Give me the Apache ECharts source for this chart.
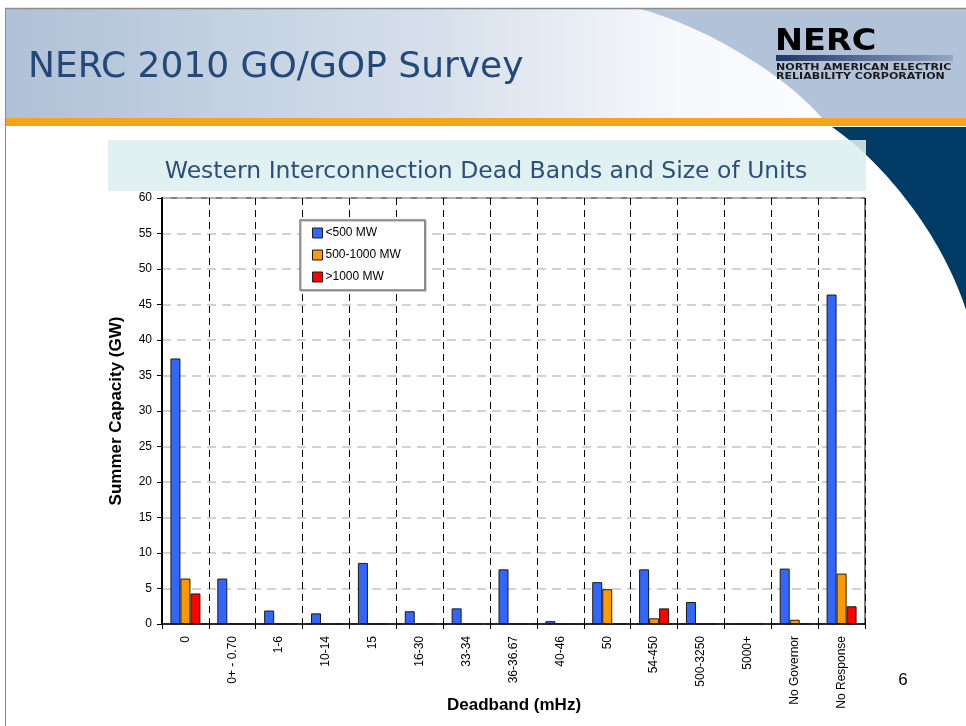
<!DOCTYPE html>
<html>
<head>
<meta charset="utf-8">
<script src="https://cdn.jsdelivr.net/npm/echarts@6/dist/echarts.min.js"></script>
<style>
html,body{margin:0;padding:0;background:#fff;}
#c{width:966px;height:726px;}
</style>
</head>
<body>
<div id="c"></div>
<script>
var categories = ['0','0+ - 0.70','1-6','10-14','15','16-30','33-34','36-36.67','40-46','50','54-450','500-3250','5000+','No Governor','No Response'];
var seriesNames = ['<500 MW','500-1000 MW','>1000 MW'];
var under500 = [37.4, 6.4, 1.9, 1.5, 8.6, 1.8, 2.2, 7.7, 0.4, 5.9, 7.7, 3.1, 0, 7.8, 46.4];
var mid500to1000 = [6.4, 0, 0, 0, 0, 0, 0, 0, 0, 4.9, 0.8, 0, 0, 0.6, 7.1];
var over1000 = [4.3, 0, 0, 0, 0, 0, 0, 0, 0, 0, 2.2, 0, 0, 0, 2.5];

var colors = ['#3366ff','#ff9900','#ff0000'];

function bez(p0,p1,p2,p3,n){
  var pts=[];
  for(var i=0;i<=n;i++){
    var t=i/n, u=1-t;
    pts.push([u*u*u*p0[0]+3*u*u*t*p1[0]+3*u*t*t*p2[0]+t*t*t*p3[0],
              u*u*u*p0[1]+3*u*u*t*p1[1]+3*u*t*t*p2[1]+t*t*t*p3[1]]);
  }
  return pts;
}
var steelPts = bez([640,9],[700,25],[780,70],[822,118],40).concat([[966,118],[966,9]]);
var navyPts = bez([832,127],[880,160],[940,230],[966,310],40).concat([[966,127]]);

var chart = echarts.init(document.getElementById('c'), null, {renderer:'canvas'});
var seriesData = [under500, mid500to1000, over1000];
var series = seriesData.map(function(d,i){
  return {
    name: seriesNames[i], type:'bar', data:d, barWidth:10, barGap:'0%',
    itemStyle:{color:colors[i], borderColor:'#1a1a1a', borderWidth:1},
    z:3
  };
});
var titleFont = '"DejaVu Sans",sans-serif';
chart.setOption({
  animation:false,
  backgroundColor:'#ffffff',
  graphic:[
    {type:'rect', shape:{x:5,y:9,width:961,height:109}, z:-10, silent:true,
     style:{fill:new echarts.graphic.LinearGradient(0,0,1,0,[{offset:0,color:'#afc1d7'},{offset:0.45,color:'#d6e0eb'},{offset:0.7,color:'#f6f8fb'},{offset:1,color:'#ffffff'}])}},
    {type:'polygon', shape:{points:steelPts}, z:-9, silent:true, style:{fill:'#b2c3d9'}},
    {type:'line', shape:{x1:5,y1:8.5,x2:966,y2:8.5}, z:-8, style:{stroke:'#8c8c8c',lineWidth:1.5}},
    {type:'line', shape:{x1:5.5,y1:8,x2:5.5,y2:726}, z:-8, style:{stroke:'#8c8c8c',lineWidth:1}},
    {type:'rect', shape:{x:6,y:118,width:960,height:8}, z:-8, style:{fill:'#f6a31b'}},
    {type:'polygon', shape:{points:navyPts}, z:-8, silent:true, style:{fill:'#003b66'}},
    {type:'rect', shape:{x:108,y:140,width:758,height:51}, z:-7, style:{fill:'rgba(221,238,239,0.88)'}},
    {type:'text', x:28, y:68, z:-6, style:{text:'NERC 2010 GO/GOP Survey', font:'36px '+titleFont, fill:'#23497a', verticalAlign:'middle', shadowColor:'rgba(90,90,90,0.55)', shadowOffsetX:2, shadowOffsetY:2, shadowBlur:2}},
    {type:'text', x:775, y:42, scaleX:1.08, z:-6, style:{text:'NERC', font:'bold 31px "DejaVu Sans",sans-serif', fill:'#000', verticalAlign:'middle'}},
    {type:'rect', shape:{x:776,y:55,width:177,height:6}, z:-6, style:{fill:new echarts.graphic.LinearGradient(0,0,1,0,[{offset:0,color:'#1d3767'},{offset:1,color:'#93a6c6'}])}},
    {type:'text', x:776, y:68, scaleX:1.3, z:-6, style:{text:'NORTH AMERICAN ELECTRIC', font:'bold 8.5px "DejaVu Sans",sans-serif', fill:'#1a1a1a', verticalAlign:'middle'}},
    {type:'text', x:776, y:77, scaleX:1.3, z:-6, style:{text:'RELIABILITY CORPORATION', font:'bold 8.5px "DejaVu Sans",sans-serif', fill:'#1a1a1a', verticalAlign:'middle'}},
    {type:'text', x:486, y:172, z:-6, style:{text:'Western Interconnection Dead Bands and Size of Units', font:'23.5px '+titleFont, fill:'#2b5078', align:'center', verticalAlign:'middle'}},
    {type:'text', x:116, y:411, rotation:Math.PI/2, z:5, style:{text:'Summer Capacity (GW)', font:'bold 17px "Liberation Sans",Arial,sans-serif', fill:'#000', align:'center', verticalAlign:'middle'}},
    {type:'text', x:514, y:705, z:5, style:{text:'Deadband (mHz)', font:'bold 17px "Liberation Sans",Arial,sans-serif', fill:'#000', align:'center', verticalAlign:'middle'}},
    {type:'text', x:903, y:680, z:5, style:{text:'6', font:'17px "Liberation Sans",Arial,sans-serif', fill:'#000', align:'center', verticalAlign:'middle'}}
  ],
  grid:{left:162, top:198, width:703, height:426, show:true, borderColor:'#000', borderWidth:1, backgroundColor:'transparent', containLabel:false, outerBoundsMode:'none'},
  legend:{
    orient:'vertical', left:300, top:220, data:seriesNames,
    itemWidth:10, itemHeight:10, itemGap:10, icon:'rect',
    backgroundColor:'#fff', borderColor:'#808080', borderWidth:1.5,
    padding:[7,24,7,12],
    shadowColor:'rgba(0,0,0,0.25)', shadowOffsetX:1, shadowOffsetY:1, shadowBlur:0,
    textStyle:{fontFamily:'"Liberation Sans",Arial,sans-serif', fontSize:12, color:'#000', padding:[0,0,0,-2]},
    itemStyle:{borderColor:'#1a1a1a', borderWidth:1},
    selectedMode:false
  },
  xAxis:{
    type:'category', data:categories,
    axisLine:{lineStyle:{color:'#000', width:1.5}},
    axisTick:{show:true, length:5, lineStyle:{color:'#000'}},
    axisLabel:{rotate:90, margin:12, fontFamily:'"Liberation Sans",Arial,sans-serif', fontSize:12, color:'#000', interval:0},
    splitLine:{show:true, lineStyle:{color:'#000', type:[7,5], width:1}}
  },
  yAxis:{
    type:'value', min:0, max:60, interval:5,
    axisLine:{show:true, lineStyle:{color:'#000', width:2}},
    axisTick:{show:true, length:5, lineStyle:{color:'#000'}},
    axisLabel:{margin:10, fontFamily:'"Liberation Sans",Arial,sans-serif', fontSize:12, color:'#000'},
    splitLine:{show:true, lineStyle:{color:'#c4c4c4', type:[9,6], width:1.5}}
  },
  series:series
});
</script>
</body>
</html>
